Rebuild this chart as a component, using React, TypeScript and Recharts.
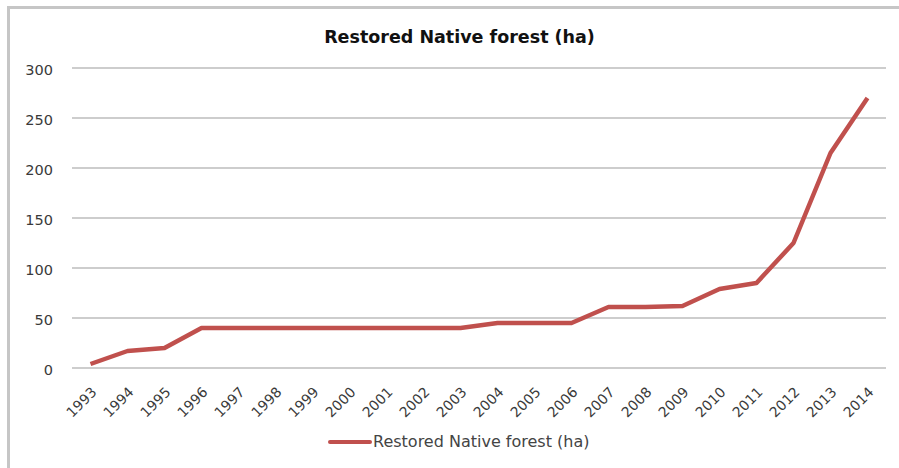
import React from 'react';
import { LineChart, Line, XAxis, YAxis, CartesianGrid, Legend } from 'recharts';

const years = [
  '1993', '1994', '1995', '1996', '1997', '1998', '1999', '2000', '2001', '2002', '2003',
  '2004', '2005', '2006', '2007', '2008', '2009', '2010', '2011', '2012', '2013', '2014',
];
const restoredHa = [4, 17, 20, 40, 40, 40, 40, 40, 40, 40, 40, 45, 45, 45, 61, 61, 62, 79, 85, 125, 215, 270];
const yTicks = [0, 50, 100, 150, 200, 250, 300];
const seriesName = 'Restored Native forest (ha)';

const chartData = years.map((year, i) => ({ year, value: restoredHa[i] }));

const FONT = '"DejaVu Sans", sans-serif';
const LINE_RED = '#c0504d';
const GRID = '#bdbdbd';
const TEXT = '#3a3a3a';

// Legend sits under the rotated year labels, line swatch then the series name.
const renderLegend = () => (
  <div style={{ height: 40, position: 'relative', fontFamily: FONT }}>
    <div style={{ position: 'absolute', left: 328, top: 12, width: 44, height: 4, borderRadius: 2, background: LINE_RED }} />
    <div style={{ position: 'absolute', left: 373, top: 4, fontSize: 16, lineHeight: '20px', color: '#444', whiteSpace: 'nowrap' }}>
      {seriesName}
    </div>
  </div>
);

export default function App() {
  return (
    <div style={{ position: 'absolute', left: 0, top: 0, width: 899, height: 468, background: '#fff', overflow: 'hidden' }}>
      {/* chart frame: only top and left edges fall inside the view */}
      <div style={{ position: 'absolute', left: 7, top: 6, width: 900, height: 470, borderTop: '3px solid #c6c6c6', borderLeft: '3px solid #c6c6c6' }} />
      <div
        style={{
          position: 'absolute', left: 0, top: 27, width: 919, textAlign: 'center',
          fontFamily: FONT, fontWeight: 'bold', fontSize: 17.5, lineHeight: '20px', color: '#111',
        }}
      >
        {seriesName}
      </div>
      <div style={{ position: 'absolute', left: 0, top: 0 }}>
        <LineChart width={899} height={468} data={chartData} margin={{ top: 68, right: 13, bottom: 0, left: 0 }}>
          <CartesianGrid vertical={false} stroke={GRID} strokeWidth={1.6} />
          <XAxis
            dataKey="year"
            interval={0}
            padding={{ left: 18.5, right: 18.5 }}
            axisLine={false}
            tickLine={false}
            angle={-45}
            textAnchor="end"
            tickMargin={12}
            height={60}
            tick={{ fontSize: 14, fill: TEXT, fontFamily: FONT }}
          />
          <YAxis
            domain={[0, 300]}
            ticks={yTicks}
            width={72}
            axisLine={false}
            tickLine={false}
            tickMargin={13}
            tick={{ fontSize: 14.5, fill: TEXT, fontFamily: FONT, dy: 2 }}
          />
          <Legend verticalAlign="bottom" height={40} content={renderLegend} wrapperStyle={{ height: 40 }} />
          <Line
            type="linear"
            dataKey="value"
            name={seriesName}
            stroke={LINE_RED}
            strokeWidth={4.5}
            strokeLinejoin="round"
            dot={false}
            activeDot={false}
            isAnimationActive={false}
          />
        </LineChart>
      </div>
    </div>
  );
}
